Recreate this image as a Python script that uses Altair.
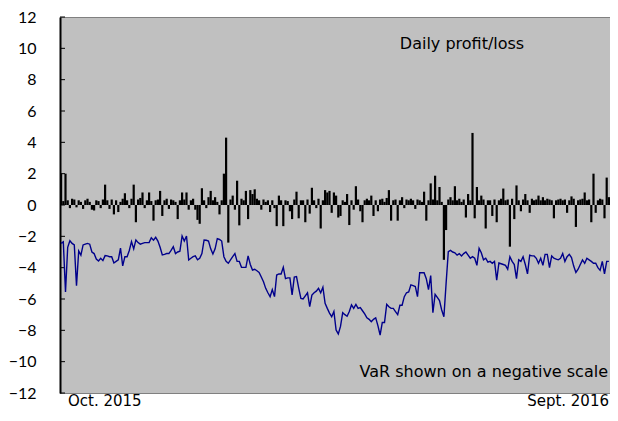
import altair as alt
import pandas as pd

# Daily profit/loss (one value per trading day, Oct. 2015 - Sept. 2016)
pl = [
    2.0, 0.25, 2.0, 0.3, -0.2, 0.4, 0.35, -0.15, 0.3, 0.2,
    -0.25, 0.3, 0.4, 0.2, -0.3, -0.35, 0.3, 0.25, -0.2, 0.35,
    1.3, 0.3, -0.25, 0.35, -0.6, 0.3, -0.45, 0.2, 0.4, 0.75,
    0.3, -0.2, 0.4, 1.3, -1.1, 0.35, 0.45, 0.8, -0.2, 0.3,
    0.8, 0.25, -1.0, 0.3, 0.35, 0.9, -0.7, 0.3, 0.4, -0.25,
    0.35, 0.3, 0.2, -0.9, 0.3, 0.8, 0.35, 0.8, -0.3, 0.3,
    0.4, -0.3, -0.95, -1.2, 1.07, 0.3, -0.2, 0.5, 0.9, 0.3,
    0.5, 0.2, -0.6, 0.3, 2.0, 4.3, -2.4, 0.35, 0.6, -0.3,
    1.55, -1.3, 0.4, 0.3, 0.9, -0.9, 0.95, 0.7, 1.0, 0.4,
    0.3, -0.3, 0.35, 0.2, 0.3, -0.45, 0.3, -0.2, -1.35, 0.6,
    0.3, -1.35, 0.3, 0.25, -0.4, -0.9, 0.35, 0.85, -0.85, 0.3,
    0.3, -1.1, 0.35, -0.55, 1.1, 0.3, -0.2, 0.4, -1.5, 0.3,
    0.95, 0.8, 0.9, -0.5, 0.8, 0.6, -0.8, -0.7, 0.3, 0.2,
    0.7, -1.28, 0.3, -0.3, 1.2, 0.35, -0.4, -1.1, 0.3, 0.4,
    0.3, 0.6, -0.7, 0.3, -0.4, 0.35, 0.4, 0.2, 0.45, 0.95,
    -1.0, 0.3, 0.35, -1.0, 0.3, 0.5, -0.2, 0.35, 0.3, 0.4,
    0.3, -0.25, 0.35, 0.3, 0.2, 0.85, -1.0, 0.3, 1.38, 0.35,
    1.87, 0.3, 1.15, 0.2, -3.5, -1.6, 0.35, 0.5, 0.3, 1.2,
    0.3, 0.4, 0.2, 0.35, -0.8, 0.7, 0.3, 4.6, -0.85, 1.15,
    0.3, 0.6, 0.35, -1.5, 0.3, 0.3, -0.7, 0.35, -1.1, 0.3,
    0.4, 1.05, 0.3, 0.35, -2.66, 0.4, -0.9, 1.25, 0.3, -0.4,
    0.35, 0.7, 0.3, -0.5, 0.4, 0.3, 0.35, 0.6, 0.3, 0.5,
    0.3, 0.4, 0.35, 0.3, -0.85, 0.3, 0.35, 0.4, 0.3, 0.35,
    -0.5, 0.3, 0.55, 0.4, -1.4, 0.3, 0.35, 0.4, 0.8, 0.3,
    0.35, -1.1, 2.0, -0.5, 0.3, 0.4, 0.35, -0.85, 1.75, 0.5,
]

# VaR shown on a negative scale
var = [
    -2.45, -2.35, -5.55, -2.7, -2.28, -2.45, -2.55, -5.15, -2.94, -3.2,
    -2.55, -2.5, -2.45, -2.5, -3.0, -3.1, -3.45, -3.57, -3.4, -3.55,
    -3.23, -3.25, -3.3, -3.3, -3.7, -3.6, -3.5, -2.75, -3.89, -3.3,
    -3.3, -2.9, -2.34, -2.8, -2.23, -2.4, -2.5, -2.45, -2.4, -2.4,
    -2.4, -2.09, -2.25, -2.06, -2.3, -2.7, -3.19, -3.15, -3.1, -3.1,
    -2.9, -2.66, -3.1, -3.0, -2.95, -1.98, -2.3, -1.98, -3.51, -3.4,
    -3.3, -3.25, -3.5, -3.4, -3.1, -2.23, -2.25, -2.3, -2.8, -3.13,
    -2.8, -2.15, -2.2, -2.3, -3.3, -3.6, -3.72, -3.5, -3.3, -3.1,
    -3.6, -3.6, -3.98, -3.98, -3.98, -3.25, -3.8, -4.15, -4.1, -4.2,
    -4.3, -4.6, -4.9, -5.32, -5.6, -5.85, -5.4, -5.85, -4.47, -4.4,
    -4.4, -3.98, -4.7, -4.65, -4.65, -5.74, -4.6, -4.57, -5.3, -5.96,
    -6.0, -5.8, -5.6, -6.49, -5.75, -5.6, -5.5, -5.32, -5.6, -5.25,
    -6.28, -6.6, -6.9, -7.13, -6.8, -7.98, -8.23, -7.75, -6.87, -7.0,
    -7.1, -6.8, -6.38, -6.6, -6.35, -6.6, -6.55, -6.75, -6.95, -7.2,
    -7.3, -7.45, -7.3, -7.2, -7.7, -8.3, -7.5, -7.5, -6.34, -6.5,
    -6.6, -6.6, -6.8, -7.0, -6.4, -6.4, -5.85, -5.6, -5.55, -5.1,
    -5.15, -5.2, -5.85, -4.32, -4.32, -4.32, -4.7, -5.4, -4.5, -6.87,
    -5.7, -5.9, -6.1, -6.7, -7.13, -5.0, -2.98, -2.9, -3.0, -3.05,
    -3.2, -3.1, -3.25, -3.1, -3.0, -3.2, -3.4, -3.3, -3.4, -3.85,
    -2.77, -3.05, -3.5, -3.4, -3.65, -3.6, -3.72, -3.6, -4.79, -3.7,
    -3.75, -3.8, -3.85, -4.1, -3.3, -3.6, -3.8, -4.7, -3.5, -3.6,
    -3.3, -3.8, -4.4, -3.2, -3.25, -3.25, -3.4, -3.72, -3.4, -3.85,
    -3.15, -3.15, -4.0, -3.25, -3.4, -3.45, -3.5, -3.4, -3.1, -3.6,
    -3.3, -3.15, -3.35, -3.9, -4.3, -4.1, -3.8, -3.5, -3.72, -3.4,
    -3.5, -3.6, -3.72, -3.72, -4.0, -4.17, -3.6, -4.4, -3.6, -3.6,
]

y_ticks = list(range(-12, 13, 2))
x_labels = ["Oct. 2015", "Sept. 2016"]
notes = ["Daily profit/loss", "VaR shown on a negative scale"]

FONT = "Lato"
TFONT = "DejaVu Sans"
W, H = 550, 376

df = pd.DataFrame({"day": list(range(len(pl))), "pl": pl, "var": var})
ticks_df = pd.DataFrame({"t": y_ticks})

xs = alt.X("day:Q", scale=alt.Scale(domain=[-0.5, len(pl) - 0.5], nice=False, zero=False), axis=None)
ys = alt.Scale(domain=[-12, 12], nice=False)
yaxis = alt.Axis(values=y_ticks, tickSize=0, labelPadding=24, domainColor="black",
                 domainWidth=2, grid=False, title=None, labelFont=FONT,
                 labelFontSize=16, labelColor="black")

ticks = alt.Chart(ticks_df).mark_rule(color="black", strokeWidth=1).encode(
    y=alt.Y("t:Q", scale=ys, axis=yaxis),
    x=alt.value(0), x2=alt.value(5),
)

bars = alt.Chart(df).mark_rule(color="black", strokeWidth=2.2).encode(
    x=xs,
    y=alt.Y("pl:Q", scale=ys, axis=yaxis),
    y2=alt.datum(0),
)

line = alt.Chart(df).mark_line(color="#00008B", strokeWidth=1.4).encode(
    x=xs,
    y=alt.Y("var:Q", scale=ys, axis=yaxis),
)

def label(txt, x, y, align, size):
    return alt.Chart(pd.DataFrame({"a": [0]})).mark_text(
        font=TFONT, fontSize=size, color="black", align=align, baseline="middle"
    ).encode(x=alt.value(x), y=alt.value(y), text=alt.value(txt))

texts = (
    label(notes[0], 402, 27, "center", 16)
    + label(notes[1], W - 2, 355, "right", 16)
    + label(x_labels[0], 8, 384, "left", 15)
    + label(x_labels[1], W - 1, 384, "right", 15)
)

chart = alt.layer(ticks, bars, line, texts).properties(
    width=W, height=H,
    autosize=alt.AutoSizeParams(type="none"),
    padding={"left": 52, "top": 9, "right": 0, "bottom": 20},
).configure_view(fill="#C0C0C0", stroke="#808080", strokeWidth=1)

chart.save("out.html", embed_options={"renderer": "svg", "actions": False})
